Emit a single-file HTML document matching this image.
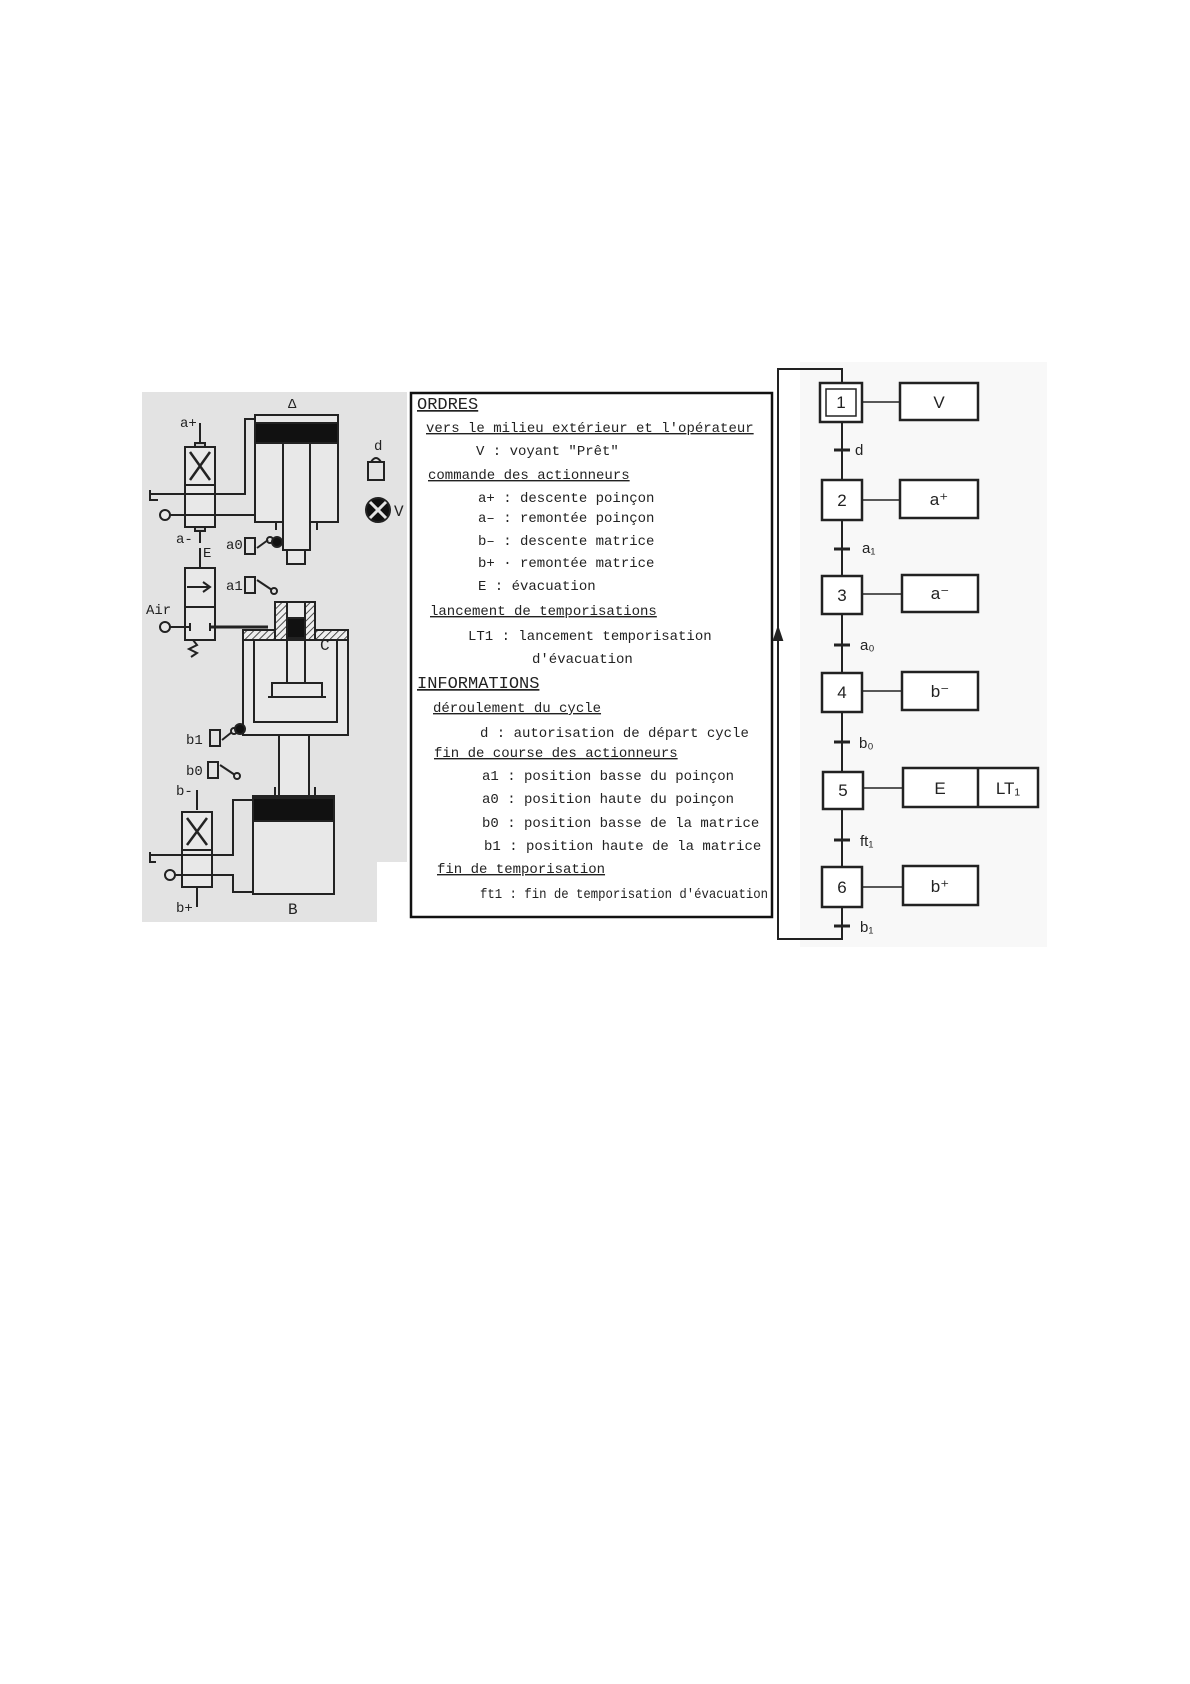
<!DOCTYPE html>
<html><head><meta charset="utf-8"><style>
html,body{margin:0;padding:0;background:#fff;}
svg{display:block;}
text{font-family:"Liberation Sans",sans-serif;fill:#222;}
.m text{font-family:"Liberation Mono",monospace;}
</style></head><body>
<svg width="1190" height="1684" viewBox="0 0 1190 1684" xmlns="http://www.w3.org/2000/svg">
<defs>
<pattern id="hatch" width="5" height="5" patternUnits="userSpaceOnUse" patternTransform="rotate(45)">
<rect width="5" height="5" fill="#eee"/><line x1="0" y1="0" x2="0" y2="5" stroke="#222" stroke-width="1.6"/></pattern>
</defs>

<rect x="142" y="392" width="265" height="530" fill="#e3e3e3"/>
<rect x="377" y="862" width="31" height="61" fill="#fff"/>
<g stroke="#222" stroke-width="2" fill="none">
<rect x="255" y="415" width="83" height="107" fill="#e8e8e8"/>
<rect x="255" y="423" width="83" height="20" fill="#111"/>
<rect x="283" y="443" width="27" height="107" fill="#e8e8e8"/>
<rect x="287" y="550" width="18" height="14" fill="#e8e8e8"/>
<path d="M276 522 v8 M317 522 v8"/>
<rect x="185" y="447" width="30" height="80" fill="#e8e8e8"/>
<line x1="185" y1="485" x2="215" y2="485"/>
<path d="M190 452 L210 480 M210 452 L190 480" stroke-width="2.5"/>
<rect x="195" y="443" width="10" height="4" fill="#ccc"/>
<rect x="195" y="527" width="10" height="4" fill="#ccc"/>
<path d="M200 423 v20 M200 531 v12"/>
<path d="M150 494 H245 V419 H255"/>
<path d="M150 490 v10 h8"/>
<path d="M170 515 H255"/>
<circle cx="165" cy="515" r="5" fill="#e8e8e8"/>
<rect x="368" y="462" width="16" height="18"/>
<path d="M371 462 q5 -8 10 0"/>
<circle cx="378" cy="510" r="12" fill="#111"/>
<path d="M370 502 L386 518 M386 502 L370 518" stroke="#e3e3e3" stroke-width="3"/>
<rect x="245" y="538" width="10" height="16"/>
<path d="M257 548 L268 540"/><circle cx="270" cy="540" r="3"/>
<circle cx="277" cy="542" r="5" fill="#111"/>
<rect x="245" y="577" width="10" height="16"/>
<path d="M257 580 L272 590"/><circle cx="274" cy="591" r="3"/>
<path d="M200 548 v20"/>
<rect x="185" y="568" width="30" height="72" fill="#e8e8e8"/>
<line x1="185" y1="607" x2="215" y2="607"/>
<path d="M187 587 H208 M203 582 L210 587 L203 592"/>
<path d="M193 640 l4 5 l-8 4 l8 4 l-6 4"/>
<circle cx="165" cy="627" r="5" fill="#e8e8e8"/>
<path d="M170 627 H190 M190 623 v8 M210 623 v8"/>
<path d="M210 627 H268" stroke-width="3"/>
<rect x="243" y="630" width="105" height="105" fill="#e8e8e8"/>
<rect x="243" y="630" width="105" height="10" fill="url(#hatch)"/>
<rect x="275" y="602" width="40" height="38" fill="url(#hatch)"/>
<rect x="287" y="602" width="18" height="38" fill="#e8e8e8"/>
<rect x="287" y="618" width="18" height="20" fill="#111"/>
<rect x="254" y="640" width="83" height="82"/>
<rect x="287" y="638" width="18" height="45"/>
<rect x="272" y="683" width="50" height="14"/>
<path d="M268 697 H326"/>
<rect x="279" y="735" width="30" height="62" fill="#e8e8e8"/>
<rect x="210" y="730" width="10" height="16"/>
<path d="M222 740 L232 732"/><circle cx="234" cy="731" r="3"/>
<circle cx="240" cy="729" r="5" fill="#111"/>
<rect x="208" y="762" width="10" height="16"/>
<path d="M220 765 L235 775"/><circle cx="237" cy="776" r="3"/>
<rect x="253" y="796" width="81" height="98" fill="#e8e8e8"/>
<rect x="253" y="798" width="81" height="23" fill="#111"/>
<path d="M275 797 v-10 M315 797 v-10"/>
<path d="M197 790 v20 M197 887 v20"/>
<rect x="182" y="812" width="30" height="75" fill="#e8e8e8"/>
<line x1="182" y1="850" x2="212" y2="850"/>
<path d="M187 818 L207 845 M207 818 L187 845" stroke-width="2.5"/>
<path d="M150 855 H233 V800 H253"/>
<path d="M150 852 v10 h6"/>
<path d="M175 875 H233 V892 H253"/>
<circle cx="170" cy="875" r="5" fill="#e8e8e8"/>
</g>
<g font-size="14" class="m">
<text x="288" y="408">Δ</text>
<text x="180" y="427">a+</text>
<text x="374" y="450">d</text>
<text x="394" y="516" font-size="16">V</text>
<text x="176" y="543">a-</text>
<text x="203" y="557">E</text>
<text x="226" y="549">a0</text>
<text x="226" y="590">a1</text>
<text x="146" y="614">Air</text>
<text x="320" y="650" font-size="16">C</text>
<text x="186" y="744">b1</text>
<text x="186" y="775">b0</text>
<text x="176" y="795">b-</text>
<text x="176" y="912">b+</text>
<text x="288" y="914" font-size="16">B</text>
</g>

<rect x="411" y="393" width="361" height="524" fill="#fff" stroke="#111" stroke-width="2.5"/>
<g font-size="14" class="m">
<text x="417" y="409" font-size="17" text-decoration="underline">ORDRES</text>
<text x="426" y="432" text-decoration="underline">vers le milieu extérieur et l'opérateur</text>
<text x="476" y="455">V : voyant "Prêt"</text>
<text x="428" y="479" text-decoration="underline">commande des actionneurs</text>
<text x="478" y="502">a+ : descente poinçon</text>
<text x="478" y="522">a– : remontée poinçon</text>
<text x="478" y="545">b– : descente matrice</text>
<text x="478" y="567">b+ · remontée matrice</text>
<text x="478" y="590">E  : évacuation</text>
<text x="430" y="615" text-decoration="underline">lancement de temporisations</text>
<text x="468" y="640">LT1 : lancement temporisation</text>
<text x="532" y="663">d'évacuation</text>
<text x="417" y="688" font-size="17" text-decoration="underline">INFORMATIONS</text>
<text x="433" y="712" text-decoration="underline">déroulement du cycle</text>
<text x="480" y="737">d : autorisation de départ cycle</text>
<text x="434" y="757" text-decoration="underline">fin de course des actionneurs</text>
<text x="482" y="780">a1 : position basse du poinçon</text>
<text x="482" y="803">a0 : position haute du poinçon</text>
<text x="482" y="827">b0 : position basse de la matrice</text>
<text x="484" y="850">b1 : position haute de la matrice</text>
<text x="437" y="873" text-decoration="underline">fin de temporisation</text>
<text x="480" y="898" textLength="288" lengthAdjust="spacingAndGlyphs">ft1 : fin de temporisation d'évacuation</text>
</g>

<rect x="800" y="362" width="247" height="585" fill="#f8f8f8"/>
<g stroke="#222" stroke-width="2" fill="none">
<path d="M842 383 V369 H778 V939 H842 V907"/>
<path d="M774 640 L778 628 L782 640 Z" fill="#222"/>
<line x1="842" y1="422" x2="842" y2="867"/>
<path d="M834 450 h16 M834 549 h16 M834 645 h16 M834 742 h16 M834 840 h16 M834 926 h16" stroke-width="3"/>
</g>
<g stroke="#222" stroke-width="2.5" fill="#fff">
<rect x="820" y="383" width="42" height="39"/>
<rect x="826" y="389" width="30" height="27" stroke-width="1.5"/>
<rect x="822" y="480" width="40" height="40"/>
<rect x="822" y="576" width="40" height="38"/>
<rect x="822" y="673" width="40" height="39"/>
<rect x="823" y="772" width="40" height="37"/>
<rect x="822" y="867" width="40" height="40"/>
<rect x="900" y="383" width="78" height="37"/>
<rect x="900" y="480" width="78" height="38"/>
<rect x="902" y="575" width="76" height="37"/>
<rect x="902" y="672" width="76" height="38"/>
<rect x="903" y="768" width="135" height="39"/>
<line x1="978" y1="768" x2="978" y2="807"/>
<rect x="903" y="866" width="75" height="39"/>
</g>
<g stroke="#222" stroke-width="1.5">
<line x1="862" y1="402" x2="900" y2="402"/>
<line x1="862" y1="500" x2="900" y2="500"/>
<line x1="862" y1="594" x2="902" y2="594"/>
<line x1="862" y1="691" x2="902" y2="691"/>
<line x1="863" y1="788" x2="903" y2="788"/>
<line x1="862" y1="887" x2="903" y2="887"/>
</g>
<g font-size="17" text-anchor="middle">
<text x="841" y="408">1</text>
<text x="842" y="506">2</text>
<text x="842" y="601">3</text>
<text x="842" y="698">4</text>
<text x="843" y="796">5</text>
<text x="842" y="893">6</text>
<text x="939" y="408">V</text>
<text x="939" y="505">a⁺</text>
<text x="940" y="599">a⁻</text>
<text x="940" y="697">b⁻</text>
<text x="940" y="794">E</text>
<text x="1008" y="794">LT₁</text>
<text x="940" y="892">b⁺</text>
</g>
<g font-size="15">
<text x="855" y="455">d</text>
<text x="862" y="553">a₁</text>
<text x="860" y="650">a₀</text>
<text x="859" y="748">b₀</text>
<text x="860" y="846">ft₁</text>
<text x="860" y="932">b₁</text>
</g>
</svg>
</body></html>
